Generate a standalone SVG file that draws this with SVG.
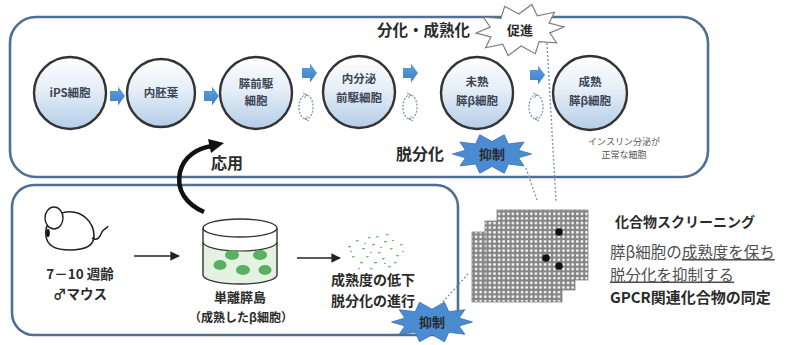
<svg xmlns="http://www.w3.org/2000/svg" width="792" height="345" viewBox="0 0 792 345">
  <style>
    .box { fill: #ffffff; stroke: #4f6f93; stroke-width: 2.6; }
    .cell { fill: url(#cellGrad); stroke: #333333; stroke-width: 2.4; }
    .ctext { font-family: "Noto Sans CJK JP", "Noto Sans", sans-serif; font-size: 11.5px; font-weight: bold; fill: #3a4656; text-anchor: middle; }
    .lbl { font-family: "Noto Sans CJK JP", "Noto Sans", sans-serif; font-weight: bold; fill: #2b2b2b; }
    .note { font-family: "Noto Sans CJK JP", "Noto Sans", sans-serif; font-size: 9px; fill: #555555; text-anchor: middle; }
    .flow { fill: url(#arrowGrad); }
    .cycle { fill: none; stroke: #8199b4; stroke-width: 1.3; stroke-dasharray: 2 1.5; }
    .dots { fill: none; stroke: #7b96b4; stroke-width: 1.4; stroke-dasharray: 2 2; }
    .plate { fill: url(#wells); stroke: #808080; stroke-width: 0.8; }
    .thin { fill: none; stroke: #222222; stroke-width: 1.6; }
    .green { fill: #58b060; }
  </style>
  <defs>
    <linearGradient id="cellGrad" x1="0" y1="0" x2="0" y2="1">
      <stop offset="0" stop-color="#ffffff"/>
      <stop offset="0.45" stop-color="#e6eef7"/>
      <stop offset="1" stop-color="#b4cde8"/>
    </linearGradient>
    <linearGradient id="arrowGrad" x1="0" y1="0" x2="0" y2="1">
      <stop offset="0" stop-color="#5fa0dd"/>
      <stop offset="1" stop-color="#3b7fc6"/>
    </linearGradient>
    <pattern id="wells" width="4.6" height="4.6" patternUnits="userSpaceOnUse">
      <rect width="4.6" height="4.6" fill="#858585"/>
      <circle cx="2.3" cy="2.3" r="1.35" fill="#ffffff"/>
    </pattern>
    <polygon id="burst" points="44,0 29.5,4.9 35.6,15.3 18.2,12.9 13.6,24.7 0,16 -13.6,24.7 -18.2,12.9 -35.6,15.3 -29.5,4.9 -44,0 -29.5,-4.9 -35.6,-15.3 -18.2,-12.9 -13.6,-24.7 0,-16 13.6,-24.7 18.2,-12.9 35.6,-15.3 29.5,-4.9"/>
    <path id="blockArrow" d="M0,-5 L8,-5 L8,-9.5 L15,0 L8,9.5 L8,5 L0,5 Z"/>
    <marker id="head" viewBox="0 0 10 10" refX="9" refY="5" markerWidth="6" markerHeight="6" orient="auto">
      <path d="M0,0 L10,5 L0,10 Z" fill="#222222"/>
    </marker>
    <g id="cycleArrow">
      <path class="cycle" d="M1,-12 A7,12 0 0 0 -1,12"/>
      <path class="cycle" d="M-1,12 A7,12 0 0 0 1,-12"/>
      <path d="M-3,-14 L1,-12 L-2,-9" fill="none" stroke="#8199b4" stroke-width="1"/>
      <path d="M3,14 L-1,12 L2,9" fill="none" stroke="#8199b4" stroke-width="1"/>
    </g>
  </defs>

  <rect width="792" height="345" fill="#ffffff"/>

  <!-- frames -->
  <rect id="frame-invitro" class="box" x="10" y="17" width="698" height="160" rx="26"/>
  <rect id="frame-islet" class="box" x="12" y="185" width="446" height="150" rx="22"/>

  <!-- differentiation cascade -->
  <g id="node-ips">
    <circle class="cell" cx="70" cy="93" r="36"/>
    <text class="ctext" x="70" y="97">iPS細胞</text>
  </g>
  <g id="node-endoderm">
    <circle class="cell" cx="161" cy="93" r="34"/>
    <text class="ctext" x="161" y="97">内胚葉</text>
  </g>
  <g id="node-pancprog">
    <circle class="cell" cx="256" cy="93" r="36"/>
    <text class="ctext" x="256" y="88">膵前駆</text>
    <text class="ctext" x="256" y="105">細胞</text>
  </g>
  <g id="node-endoprog">
    <circle class="cell" cx="359" cy="92" r="36"/>
    <text class="ctext" x="359" y="83">内分泌</text>
    <text class="ctext" x="359" y="102">前駆細胞</text>
  </g>
  <g id="node-immature">
    <circle class="cell" cx="477" cy="93" r="36"/>
    <text class="ctext" x="477" y="86">未熟</text>
    <text class="ctext" x="477" y="105">膵β細胞</text>
  </g>
  <g id="node-mature">
    <circle class="cell" cx="590" cy="93" r="37"/>
    <text class="ctext" x="590" y="86">成熟</text>
    <text class="ctext" x="590" y="105">膵β細胞</text>
    <text class="note" x="624" y="145">インスリン分泌が</text>
    <text class="note" x="624" y="158">正常な細胞</text>
  </g>

  <!-- isolated islet workflow -->
  <g id="node-mouse">
    <path class="thin" stroke-width="1.4" d="M46,236 C44,226 52,214 66,212 C82,210 94,222 94,236 C94,246 86,250 70,250 C56,250 47,246 46,236 Z"/>
    <ellipse cx="54" cy="218" rx="9" ry="11" fill="#ffffff" stroke="#222222" stroke-width="1.4"/>
    <ellipse cx="48" cy="233" rx="1.8" ry="4" fill="#111111"/>
    <path class="thin" stroke-width="1.2" d="M92,238 C98,242 100,236 102,232 C104,228 106,230 108,226"/>
    <text class="lbl" x="80" y="279" font-size="13.5" text-anchor="middle" fill="#3a3a3a">7－10 週齢</text>
    <text class="lbl" x="80" y="299" font-size="13.5" text-anchor="middle" fill="#3a3a3a">♂マウス</text>
  </g>
  <g id="node-islets">
    <path d="M203,242 L203,275 A37,9 0 0 0 277,275 L277,242 A37,9 0 0 1 203,242 Z" fill="#e4f2e2"/>
    <path d="M203,228 L203,275 A37,9 0 0 0 277,275 L277,228" fill="none" stroke="#333333" stroke-width="1.4"/>
    <ellipse cx="240" cy="228" rx="37" ry="9" fill="#ffffff" stroke="#333333" stroke-width="1.4"/>
    <path d="M203,242 A37,9 0 0 0 277,242" fill="none" stroke="#333333" stroke-width="1.2"/>
    <ellipse class="green" cx="232" cy="255" rx="7" ry="5"/>
    <ellipse class="green" cx="260" cy="255" rx="7" ry="5"/>
    <ellipse class="green" cx="220" cy="265" rx="6.5" ry="5"/>
    <ellipse class="green" cx="243" cy="270" rx="7" ry="5"/>
    <ellipse class="green" cx="265" cy="270" rx="6.5" ry="5"/>
    <text class="lbl" x="240" y="302" font-size="13" text-anchor="middle" fill="#444444">単離膵島</text>
    <text class="lbl" x="241" y="322" font-size="12" text-anchor="middle" fill="#555555" font-weight="normal">（成熟したβ細胞）</text>
  </g>
  <g id="node-dedifferentiated">
    <g fill="#6bbd6e">
      <rect x="348" y="246" width="3" height="1.3"/><rect x="356" y="240" width="2.5" height="1.3"/>
      <rect x="362" y="248" width="3" height="1.3"/><rect x="368" y="237" width="2.5" height="1.3"/>
      <rect x="372" y="244" width="3" height="1.3"/><rect x="378" y="252" width="2.5" height="1.3"/>
      <rect x="384" y="241" width="3" height="1.3"/><rect x="390" y="248" width="2.5" height="1.3"/>
      <rect x="396" y="255" width="3" height="1.3"/><rect x="400" y="244" width="2.5" height="1.3"/>
      <rect x="352" y="256" width="2.5" height="1.3"/><rect x="360" y="262" width="3" height="1.3"/>
      <rect x="366" y="256" width="2.5" height="1.3"/><rect x="374" y="262" width="3" height="1.3"/>
      <rect x="382" y="258" width="2.5" height="1.3"/><rect x="388" y="266" width="3" height="1.3"/>
      <rect x="376" y="236" width="2.5" height="1.3"/><rect x="386" y="234" width="2.5" height="1.3"/>
      <rect x="370" y="268" width="2.5" height="1.3"/><rect x="394" y="262" width="2.5" height="1.3"/>
    </g>
    <g fill="#9a9a9a">
      <rect x="350" y="251" width="2" height="1"/><rect x="364" y="243" width="2" height="1"/>
      <rect x="380" y="247" width="2" height="1"/><rect x="392" y="240" width="2" height="1"/>
      <rect x="358" y="268" width="2" height="1"/><rect x="384" y="263" width="2" height="1"/>
      <rect x="402" y="251" width="2" height="1"/><rect x="370" y="252" width="2" height="1"/>
    </g>
    <text class="lbl" x="373" y="285" font-size="14" text-anchor="middle">成熟度の低下</text>
    <text class="lbl" x="373" y="305.5" font-size="14" text-anchor="middle">脱分化の進行</text>
  </g>

  <!-- compound screening -->
  <g id="node-screening">
    <rect class="plate" x="472" y="232" width="90" height="70"/>
    <rect class="plate" x="485" y="221" width="90" height="69"/>
    <rect class="plate" x="497" y="210" width="91" height="70"/>
    <circle cx="559" cy="232" r="3.8" fill="#111111"/>
    <circle cx="546" cy="258" r="3.8" fill="#111111"/>
    <circle cx="559" cy="266" r="3.8" fill="#111111"/>
    <text class="lbl" x="615" y="227" font-size="14" fill="#222222">化合物スクリーニング</text>
    <text font-family="'Noto Sans CJK JP', 'Noto Sans', sans-serif" font-size="15.5" fill="#4f4f4f" x="610" y="258">膵β細胞の<tspan text-decoration="underline">成熟度を保ち</tspan></text>
    <text font-family="'Noto Sans CJK JP', 'Noto Sans', sans-serif" font-size="15.5" fill="#4f4f4f" x="610" y="280.5" text-decoration="underline">脱分化を抑制する</text>
    <text class="lbl" x="610" y="303" font-size="15" fill="#222222">GPCR関連化合物の同定</text>
  </g>

  <!-- effect labels -->
  <g id="label-promote">
    <text class="lbl" x="377" y="36" font-size="15.5">分化・成熟化</text>
    <use href="#burst" transform="translate(520,30) rotate(-4)" fill="#ffffff" stroke="#7d7d7d" stroke-width="1.2"/>
    <text class="lbl" x="520" y="35" font-size="13" text-anchor="middle" fill="#3a3a3a">促進</text>
  </g>
  <g id="label-inhibit-top">
    <text class="lbl" x="396" y="160" font-size="16">脱分化</text>
    <use href="#burst" transform="translate(492,154) scale(0.9,0.78)" fill="#4b8bd2" stroke="#3b72b2" stroke-width="1"/>
    <text class="lbl" x="492" y="159" font-size="13" text-anchor="middle" fill="#1c355e">抑制</text>
  </g>
  <g id="label-inhibit-bottom">
    <use href="#burst" transform="translate(432,322) scale(0.92,0.8)" fill="#4b8bd2" stroke="#3b72b2" stroke-width="1"/>
    <text class="lbl" x="432" y="327" font-size="13" text-anchor="middle" fill="#1c355e">抑制</text>
  </g>
  <g id="label-apply">
    <text class="lbl" x="211" y="169" font-size="16">応用</text>
  </g>

  <!-- connectors -->
  <g id="connectors">
    <use href="#blockArrow" class="flow" x="110" y="96"/>
    <use href="#blockArrow" class="flow" x="204" y="96"/>
    <use href="#blockArrow" class="flow" x="302" y="73"/>
    <use href="#blockArrow" class="flow" x="403" y="73"/>
    <use href="#blockArrow" class="flow" x="530" y="75"/>
    <use href="#cycleArrow" x="306" y="107"/>
    <use href="#cycleArrow" x="410" y="107"/>
    <use href="#cycleArrow" x="536" y="107"/>
    <path class="dots" d="M547,43 L556,202"/>
    <path class="dots" d="M526,168 L537,200"/>
    <path class="dots" d="M440,305 L469,273"/>
    <line class="thin" x1="134" y1="256" x2="179" y2="256" marker-end="url(#head)"/>
    <line class="thin" x1="297" y1="258" x2="340" y2="258" marker-end="url(#head)"/>
    <path d="M204,212 C186,204 176,190 180,172 C184,156 198,148 212,146" fill="none" stroke="#111111" stroke-width="4.5"/>
    <path d="M208,139 L224,143 L211,153 Z" fill="#111111"/>
  </g>
</svg>
